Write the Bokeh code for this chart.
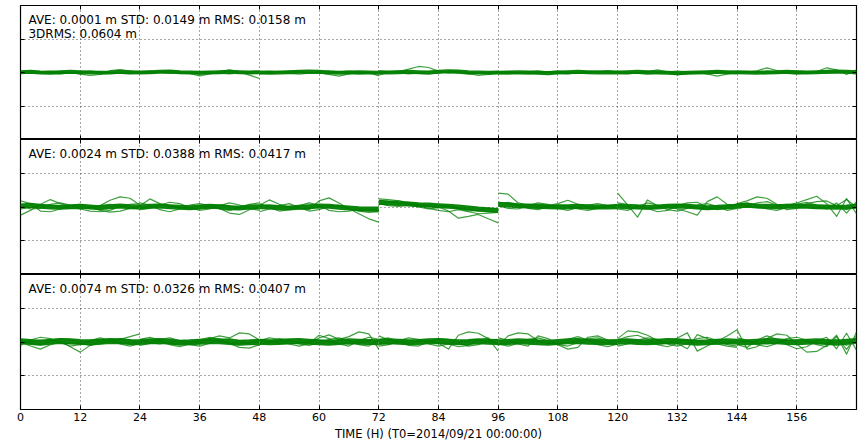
from bokeh.plotting import figure
from bokeh.models import (Range1d, LinearAxis, FixedTicker, Grid, Label,
                          ColumnDataSource, CustomLabelingPolicy)
from bokeh.layouts import column
from bokeh.embed import file_html
from bokeh.resources import INLINE

# ---------------- data (mm, sampled every 2 h inside each 24 h session) ----
HOURS_IN_DAY = [0, 2, 4, 6, 8, 10, 12, 14, 16, 18, 20, 22, 24]
DAY_STARTS = [0, 24, 48, 72, 96, 120, 144]
X_TICKS = [0, 12, 24, 36, 48, 60, 72, 84, 96, 108, 120, 132, 144, 156]
Y_TICKS = [-0.2, -0.1, 0.0, 0.1, 0.2]

STATS = [
    ["AVE: 0.0001 m STD: 0.0149 m RMS: 0.0158 m", "3DRMS: 0.0604 m"],
    ["AVE: 0.0024 m STD: 0.0388 m RMS: 0.0417 m"],
    ["AVE: 0.0074 m STD: 0.0326 m RMS: 0.0407 m"],
]
X_LABEL = "TIME (H) (T0=2014/09/21 00:00:00)"

# panel 1 (top)
p1_core = [1, 2, 0, -1, 1, 2, 1, 0, -1, 0, 2, 1, 0,
           0, 1, 2, 3, 1, 0, -1, 0, 1, 2, 1, 0, 1,
           0, -1, 0, 1, 2, 3, 2, 0, -1, 0, 1, 0, -1,
           1, 0, 1, 2, 1, 0, 2, 4, 3, 1, 0, -1, 0,
           -1, 0, 1, 0, -1, -2, 0, 1, 2, 1, 0, 1, 0,
           0, 1, 2, 1, 0, -1, -2, -1, 0, 1, 2, 1, 0,
           1, 0, -1, 0, 1, 2, 1, 0, 1, 2, 3, 2, 1]
p1_a = [0, -3, -2, 0, 1, 0, -5, -9, -6, 6, 9, 4, 0,
        0, 2, 1, -1, 0, -3, -10, -4, 3, 8, 2, -8, -18,
        -4, 0, 2, 1, 0, -2, -1, -6, -11, -4, 1, 0, -10,
        -8, 0, 3, 10, 18, 15, 4, -1, 0, -3, -9, -6, -2,
        0, 2, 0, -2, -1, 1, 2, 0, -1, 1, 3, 5, 2,
        1, 0, -2, 3, 8, 2, -7, -3, 0, -4, -11, -5, 0,
        0, 1, 5, 14, 6, 0, -1, -2, 3, 14, 8, -6, 8]
p1_b = [3, 5, 2, -2, -4, -1, 2, 4, 1, -2, -3, 0, 2,
        -1, -3, 2, 5, 3, -1, -4, -2, 1, 4, 2, -1, -3,
        2, 4, 1, -3, -5, -2, 2, 5, 3, -1, -4, -2, 1,
        4, 2, -1, -4, -2, 3, 5, 2, -2, -5, -3, 1, 3,
        -2, -4, -1, 3, 5, 2, -2, -4, -1, 3, 4, 1, -2,
        3, 1, -3, -5, -2, 2, 4, 2, -1, -4, -2, 2, 4,
        -3, -1, 2, 4, 1, -3, -5, -2, 2, 5, 3, -1, -4]
p1_c = [-3, -1, 3, 4, 1, -2, -1, 2, 3, 0, -3, -4, -1,
        2, 4, 1, -2, -3, 0, 3, 2, -2, -4, -1, 3, 2,
        -2, -3, 0, 4, 3, -1, -3, -1, 2, 4, 1, -2, -3,
        0, 3, 4, 1, -3, -4, -1, 2, 3, 0, -2, -3, 0,
        3, 1, -2, -4, -1, 3, 4, 1, -2, -3, 0, 2, 3,
        -2, -4, -1, 2, 4, 1, -2, -3, 1, 3, 2, -1, -3,
        2, 3, 0, -3, -2, 2, 4, 3, -1, -3, 0, 3, 5]

# panel 2 (middle)
p2_core = [3, 5, 2, 0, -1, 1, 2, 0, -2, 1, 3, 1, 0,
           0, 2, 3, 1, -1, -2, 0, 2, 1, -2, -3, 0, 1,
           1, 0, -2, -3, -1, 1, 3, 2, -1, -3, -5, -6, -6,
           14, 12, 10, 9, 7, 6, 4, 2, 0, -3, -6, -8, -10,
           8, 6, 4, 3, 2, 1, 0, 1, 2, 1, 0, 0, 1,
           2, 1, 0, -1, 0, 2, 3, 2, 0, -2, -1, 1, 2,
           4, 5, 3, 2, 1, 2, 3, 2, 1, 0, -1, 0, 2]
p2_a = [-24, -10, 8, 22, 10, 2, 0, -3, 4, 20, 30, 26, 6,
        4, 24, 10, 2, -2, 0, 3, 1, -4, -18, -22, -8, 0,
        5, 21, 8, 0, -4, -8, 18, 27, 12, -5, -20, -35, -45,
        24, 22, 18, 14, 8, 4, 0, -12, -33, -28, -22, -35, -47,
        41, 38, 12, 6, 2, 4, 10, 20, 8, 0, -2, 2, 6,
        41, 6, -30, 21, 4, 0, -6, -14, -24, 16, 30, 8, 2,
        10, 18, 30, 26, 8, 4, 12, 22, 32, 10, -28, 25, -20]
p2_b = [18, 10, -12, -14, -6, 4, 8, 2, -10, -15, -12, -4, 2,
        -8, -4, 6, 14, 10, -2, -10, -6, 4, 12, 6, -4, -10,
        -14, -6, 4, 10, -2, -12, -8, 2, 6, -4, -12, -16, -14,
        6, 16, 18, 10, 4, -4, -10, -14, -8, -14, -20, -18, -16,
        10, 14, 8, -4, -8, 0, 6, 2, -6, -10, -4, 4, 8,
        -6, -10, 2, 12, 6, -8, -12, -4, 6, 10, 2, -10, -4,
        8, 12, 4, -6, -10, -2, 8, 14, 6, -6, 12, -18, 16]
p2_c = [6, -6, -4, 8, 12, 6, -6, -12, -14, -10, 2, 8, 10,
        12, 6, -8, -14, -6, 6, 10, 4, -6, -10, -2, 8, 12,
        10, -2, -12, -8, 4, 12, 6, -10, -14, -12, -6, -8, -10,
        10, 4, 2, 6, 0, -6, -2, 4, -4, -12, -10, -4, -6,
        4, -4, -6, 4, 12, 8, -4, -10, -2, 6, 10, 4, -6,
        12, 8, 6, -4, -14, -10, 4, 12, 14, 0, -8, -4, 10,
        -6, 2, 12, 16, 6, -8, -4, 10, 16, 18, 4, 22, 0]
p2_d = [-6, -2, 4, 6, 2, -4, -6, -2, 4, 8, 4, -2, -6,
        -4, 2, 6, 4, -2, -6, -4, 2, 6, 4, -2, -6, -4,
        2, 6, 4, -2, -6, -4, 2, 6, 2, -6, -10, -12, -14,
        20, 16, 12, 10, 4, 2, 6, 2, -4, -8, -12, -14, -16,
        14, 10, 4, -2, -4, 2, 6, 4, -2, -6, -4, 2, 6,
        6, 2, -4, -6, -2, 4, 6, 2, -4, -6, -2, 4, 6,
        8, 4, -2, -4, 2, 8, 6, 0, -4, -2, 4, -8, 10]

# panel 3 (bottom)
p3_core = [2, 0, -2, 1, 3, 2, 0, -1, 1, 3, 2, 0, -1,
           0, 2, 3, 1, -2, -1, 1, 3, 2, 0, -2, -1, 1,
           1, -1, 0, 2, 3, 1, -1, -2, 0, 2, 1, 0, -1,
           0, 2, 1, -1, 0, 2, 3, 1, -1, 0, 2, 1, 0,
           -1, 0, 2, 1, -1, -2, 0, 2, 3, 1, 0, -1, 0,
           1, 2, 0, -1, 1, 3, 2, 0, -2, -1, 1, 2, 1,
           0, -1, 1, 3, 2, 0, -1, 1, 2, 0, -2, 1, 3]
p3_a = [0, -12, -21, -8, 2, -14, -30, -10, 2, 4, 8, 16, 24,
        4, -2, -6, 0, 4, 2, -4, 10, 18, 12, 27, 24, 6,
        -6, -2, 2, 4, 0, -4, 12, 21, 8, 16, 30, 24, -21,
        18, 6, 0, -4, 2, 4, -4, -21, 20, 30, 26, 10, -27,
        -10, 18, 27, 24, 4, -2, -8, -21, -16, 14, 18, 6, 2,
        10, 33, 30, 20, 4, -4, 12, 27, -27, -12, 2, 18, 36,
        36, -21, -14, 10, 24, 20, -6, -30, -28, -10, 20, -36, 30]
p3_b = [-10, 6, 14, 10, -2, -12, -8, 4, 12, 6, -6, -12, -4,
        8, 14, 6, -8, -14, -6, 6, 14, 8, -4, -16, -18, -8,
        4, 12, 8, -6, -12, -4, 20, 10, -6, -12, 4, 14, 8,
        -12, -8, 4, 12, 8, -6, -12, -6, -14, -10, 6, 12, -10,
        12, 6, -6, -12, 18, 10, -6, 8, 16, 6, -8, -14, -6,
        6, 16, 20, 8, -8, -14, -4, -20, 22, 10, -6, -12, -16,
        -8, -16, 6, 18, 8, -8, -20, -14, 4, 14, -20, 26, -24]
p3_c = [6, -4, -8, 2, 10, 8, -4, -10, -6, 4, 10, 6, -6,
        -10, -4, 8, 12, 4, -8, -12, -4, 6, 10, 4, -6, -10,
        -8, 2, 10, 6, -6, -10, -2, 8, 12, 4, -8, -12, 6,
        8, 12, 2, -10, -12, 0, 10, 8, -4, -12, -8, 4, 8,
        -6, -12, -4, 8, 12, 4, -8, -12, -2, 10, 12, 4, -8,
        -12, -6, 6, 12, 8, -6, -12, -4, 10, 14, 4, -8, -12,
        12, 6, -8, -14, -4, 10, 14, 6, -8, -14, 16, -22, 20]
p3_d = [-6, 2, 6, 4, -2, -6, -4, 2, 6, 4, -2, -6, -2,
        4, 6, 2, -4, -6, -2, 4, 6, 2, -4, -6, -2, 4,
        6, 2, -4, -6, -2, 4, 6, 2, -4, -6, -2, 4, 6,
        -4, -6, -2, 4, 6, 2, -4, -6, -2, 4, 6, 2, -4,
        -6, -2, 4, 6, 2, -4, -6, -2, 4, 6, 2, -4, -6,
        2, 6, 4, -2, -6, -4, 2, 6, 4, -2, -6, -4, 2,
        6, 2, -4, -6, -2, 4, 6, 2, -4, -6, 8, -10, 12]

PANELS = [
    dict(thin=[p1_a, p1_b, p1_c], core=p1_core, core_w=4),
    dict(thin=[p2_a, p2_b, p2_c, p2_d], core=p2_core, core_w=5),
    dict(thin=[p3_a, p3_b, p3_c, p3_d], core=p3_core, core_w=6),
]

GREEN = "#008000"
FONT = "DejaVu Sans"

NO_LABELS = CustomLabelingPolicy(code="""
const all = [...indices];
for (const i of all) { indices.unset(i); }
return indices;
""")


def sessions(vals):
    n = len(HOURS_IN_DAY)
    xs, ys = [], []
    for d, start in enumerate(DAY_STARTS):
        xs.append([start + h for h in HOURS_IN_DAY])
        ys.append([v / 1000.0 for v in vals[d * n:(d + 1) * n]])
    return ColumnDataSource(dict(xs=xs, ys=ys))


def hidden_axis(ticker):
    ax = LinearAxis(ticker=ticker)
    ax.major_label_policy = NO_LABELS
    ax.major_label_text_font_size = "0px"
    ax.major_label_standoff = 0
    ax.major_tick_in = 4
    ax.major_tick_out = 0
    ax.minor_tick_line_color = None
    ax.axis_line_color = None
    ax.major_tick_line_color = "black"
    return ax


figs = []
heights = [139, 135, 171]
for i, panel in enumerate(PANELS):
    last = i == 2
    p = figure(width=860, height=heights[i], output_backend="svg",
               toolbar_location=None, x_axis_type=None, y_axis_type=None,
               x_range=Range1d(0, 168), y_range=Range1d(-0.2, 0.2),
               min_border_left=20, min_border_right=4,
               min_border_top=5 if i == 0 else 0,
               min_border_bottom=36 if last else 0)
    p.outline_line_color = "black"
    p.outline_line_width = 1.2
    p.background_fill_color = "white"
    p.border_fill_color = "white"

    xt = FixedTicker(ticks=X_TICKS)
    yt = FixedTicker(ticks=Y_TICKS)

    p.add_layout(Grid(dimension=0, ticker=xt, grid_line_color="black",
                      grid_line_alpha=0.7, grid_line_dash="1 3",
                      grid_line_width=1))
    p.add_layout(Grid(dimension=1, ticker=yt, grid_line_color="black",
                      grid_line_alpha=0.7, grid_line_dash="1 3",
                      grid_line_width=1))

    p.add_layout(hidden_axis(yt), "left")
    p.add_layout(hidden_axis(yt), "right")
    p.add_layout(hidden_axis(xt), "above")
    if last:
        bx = LinearAxis(ticker=xt, axis_label=X_LABEL)
        bx.major_tick_in = 4
        bx.major_tick_out = 0
        bx.minor_tick_line_color = None
        bx.axis_line_color = None
        bx.major_label_text_font = FONT
        bx.major_label_text_font_size = "11px"
        bx.major_label_text_color = "black"
        bx.major_label_standoff = 3
        bx.axis_label_text_font = FONT
        bx.axis_label_text_font_size = "11.5px"
        bx.axis_label_text_font_style = "normal"
        bx.axis_label_text_color = "black"
        bx.axis_label_standoff = 3
        p.add_layout(bx, "below")
    else:
        p.add_layout(hidden_axis(xt), "below")

    for s in panel["thin"]:
        p.multi_line(xs="xs", ys="ys", source=sessions(s), line_color=GREEN,
                     line_alpha=0.75, line_width=1.2, line_join="round")
    p.multi_line(xs="xs", ys="ys", source=sessions(panel["core"]),
                 line_color=GREEN, line_alpha=0.95,
                 line_width=panel["core_w"], line_join="round")

    for k, txt in enumerate(STATS[i]):
        p.add_layout(Label(x=1.6, y=0.179 - k * 0.0435, text=txt,
                           text_font=FONT, text_font_size="12px",
                           text_color="black", text_baseline="top"))
    figs.append(p)

layout = column(*figs, spacing=0)
html = file_html(layout, INLINE)
open("out.html", "w").write(html)
